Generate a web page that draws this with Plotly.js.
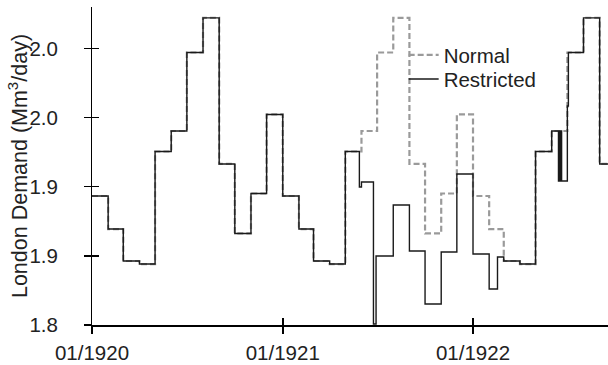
<!DOCTYPE html>
<html>
<head>
<meta charset="utf-8">
<script src="https://cdn.plot.ly/plotly-3.0.1.min.js"></script>
<style>html,body{margin:0;padding:0;background:#fff;}#chart{width:608px;height:365px;}</style>
</head>
<body>
<div id="chart"></div>
<script>
// Normal demand: monthly steps
var normalDates = [
  '1920-01-01','1920-02-01','1920-03-01','1920-04-01','1920-05-01','1920-06-01',
  '1920-07-01','1920-08-01','1920-09-01','1920-10-01','1920-11-01','1920-12-01',
  '1921-01-01','1921-02-01','1921-03-01','1921-04-01','1921-05-01','1921-06-01',
  '1921-07-01','1921-08-01','1921-09-01','1921-10-01','1921-11-01','1921-12-01',
  '1922-01-01','1922-02-01','1922-03-01','1922-04-01','1922-05-01','1922-06-01',
  '1922-07-01','1922-08-01','1922-09-01','1922-10-01'
];
var normalValues = [
  1.8933,1.8694,1.8463,1.8441,1.9255,1.9403,
  1.9971,2.0221,1.9165,1.8662,1.8951,1.9523,
  1.8933,1.8694,1.8463,1.8441,1.9255,1.9403,
  1.9971,2.0221,1.9165,1.8662,1.8951,1.9523,
  1.8933,1.8694,1.8463,1.8441,1.9255,1.9403,
  1.9971,2.0221,1.9165,1.9165
];
// Restricted demand: steps with changes inside some months
var restrictedDates = [
  '1920-01-01','1920-02-01','1920-03-01','1920-04-01','1920-05-01','1920-06-01',
  '1920-07-01','1920-08-01','1920-09-01','1920-10-01','1920-11-01','1920-12-01',
  '1921-01-01','1921-02-01','1921-03-01','1921-04-01','1921-05-01','1921-05-28',
  '1921-06-01','1921-06-24','1921-06-29','1921-08-01','1921-09-01','1921-10-01',
  '1921-11-01','1921-12-01','1922-01-01','1922-02-01','1922-02-17','1922-03-01',
  '1922-04-01','1922-05-01','1922-06-01','1922-06-14','1922-06-15','1922-06-16',
  '1922-06-17','1922-06-18','1922-06-19','1922-06-20','1922-07-01','1922-07-03',
  '1922-08-01','1922-09-01','1922-10-01'
];
var restrictedValues = [
  1.8933,1.8694,1.8463,1.8441,1.9255,1.9403,
  1.9971,2.0221,1.9165,1.8662,1.8951,1.9523,
  1.8933,1.8694,1.8463,1.8441,1.9255,1.8998,
  1.9034,1.8007,1.8499,1.8868,1.8535,1.8152,
  1.8528,1.9092,1.8514,1.8260,1.8492,1.8463,
  1.8441,1.9255,1.9403,1.9042,1.9403,1.9042,
  1.9403,1.9042,1.9403,1.9042,1.9584,1.9971,
  2.0221,1.9165,1.9165
];
var yTickVals = [1.80, 1.85, 1.90, 1.95, 2.00];
var yTickText = ['1.8', '1.9', '1.9', '2.0', '2.0'];
var xRange = ['1920-01-01', '1922-09-17'];
var yRange = [1.80, 2.03];

var fam = 'Liberation Sans, Arial, sans-serif';
var tickFont = {family: fam, size: 20.5, color: '#222'};
var titleFont = {family: fam, size: 21.5, color: '#222'};
var legFont = {family: fam, size: 20.5, color: '#222'};

var traces = [
  {x: normalDates, y: normalValues, name: 'Normal', type: 'scatter', mode: 'lines', legend: 'legend',
   line: {shape: 'hv', color: '#9a9a9a', width: 2.2, dash: '6px,3px'}},
  {x: restrictedDates, y: restrictedValues, name: 'Restricted', type: 'scatter', mode: 'lines', legend: 'legend2',
   line: {shape: 'hv', color: '#1a1a1a', width: 1.4}},
  {x: [], y: [], xaxis: 'x2', yaxis: 'y2', showlegend: false, hoverinfo: 'skip', type: 'scatter', mode: 'lines'},
  {x: [], y: [], xaxis: 'x', yaxis: 'y3', showlegend: false, hoverinfo: 'skip', type: 'scatter', mode: 'lines'}
];

var layout = {
  width: 608, height: 365,
  margin: {l: 92, r: 0, t: 7, b: 40, pad: 0},
  paper_bgcolor: '#fff', plot_bgcolor: '#fff',
  font: tickFont,
  showlegend: true,
  legend: {x: 0.604, y: 0.912, xanchor: 'left', yanchor: 'top', bgcolor: 'rgba(0,0,0,0)', font: legFont},
  legend2: {x: 0.604, y: 0.836, xanchor: 'left', yanchor: 'top', bgcolor: 'rgba(0,0,0,0)', font: legFont},
  xaxis: {type: 'date', range: xRange, showgrid: false, zeroline: false,
          showline: true, linecolor: '#000', linewidth: 1.5,
          ticks: 'outside', ticklen: 7, tickwidth: 1.5, tickcolor: '#000',
          tick0: '1920-01-01', dtick: 'M12', tickformat: '%m/%Y',
          ticklabelstandoff: 2, tickfont: tickFont},
  yaxis: {range: yRange, showgrid: false, zeroline: false,
          showline: true, linecolor: '#000', linewidth: 1.5,
          ticks: 'outside', ticklen: 7, tickwidth: 1.5, tickcolor: '#000',
          tickmode: 'array', tickvals: yTickVals, showticklabels: false,
          title: {text: 'London Demand (Mm<sup>3</sup>/day)', font: titleFont, standoff: 50}},
  xaxis2: {type: 'date', range: xRange, overlaying: 'x', anchor: 'y2', side: 'bottom',
           showgrid: false, zeroline: false, showline: false, showticklabels: false,
           ticks: 'inside', ticklen: 7, tickwidth: 1.5, tickcolor: '#000',
           tick0: '1920-01-01', dtick: 'M12'},
  yaxis2: {range: yRange, overlaying: 'y', anchor: 'x2', side: 'left',
           showgrid: false, zeroline: false, showline: false, showticklabels: false,
           ticks: 'inside', ticklen: 7, tickwidth: 1.5, tickcolor: '#000',
           tickmode: 'array', tickvals: yTickVals},
  yaxis3: {range: yRange, overlaying: 'y', anchor: 'x', side: 'left',
           showgrid: false, zeroline: false, showline: false,
           ticks: 'outside', ticklen: 29, tickwidth: 1, tickcolor: 'rgba(0,0,0,0)',
           tickmode: 'array', tickvals: yTickVals, ticktext: yTickText, tickfont: tickFont}
};

Plotly.newPlot('chart', traces, layout, {displayModeBar: false, staticPlot: true});
</script>
</body>
</html>
